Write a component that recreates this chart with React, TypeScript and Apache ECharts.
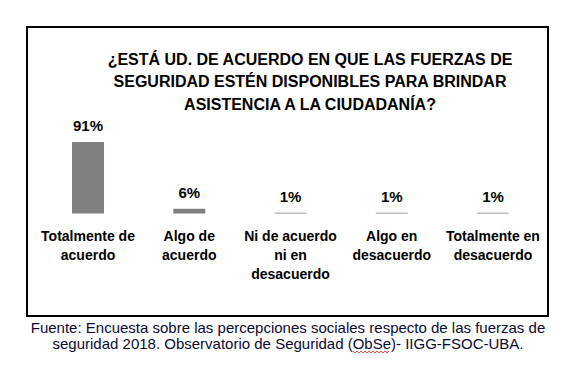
import React, { useEffect, useRef } from "react";
import * as echarts from "echarts";

const categories = [
  "Totalmente de\nacuerdo",
  "Algo de\nacuerdo",
  "Ni de acuerdo\nni en\ndesacuerdo",
  "Algo en\ndesacuerdo",
  "Totalmente en\ndesacuerdo",
];
const values = [91, 6, 1, 1, 1];
const titleLines = [
  "¿ESTÁ UD. DE ACUERDO EN QUE LAS FUERZAS DE",
  "SEGURIDAD ESTÉN DISPONIBLES PARA BRINDAR",
  "ASISTENCIA A LA CIUDADANÍA?",
];
const footerLines = [
  "Fuente: Encuesta sobre las percepciones sociales respecto de las fuerzas de",
  "seguridad 2018. Observatorio de Seguridad (ObSe)- IIGG-FSOC-UBA.",
];

const FONT = '"Liberation Sans", Arial, sans-serif';

function wavy(x0: number, x1: number, y: number): number[][] {
  const pts: number[][] = [];
  let up = true;
  for (let x = x0; x <= x1; x += 2) {
    pts.push([x, up ? y - 1 : y + 1]);
    up = !up;
  }
  return pts;
}

export default function App() {
  const ref = useRef<HTMLDivElement>(null);
  useEffect(() => {
    if (!ref.current) return;
    const chart = echarts.init(ref.current, null, { renderer: "svg" });
    chart.setOption({
      animation: false,
      backgroundColor: "#ffffff",
      grid: { left: 37.4, right: 33.4, top: 135, bottom: 152.5 },
      xAxis: {
        type: "category",
        data: categories,
        axisLine: { show: false },
        axisTick: { show: false },
        axisLabel: {
          interval: 0,
          margin: 13,
          color: "#000",
          fontFamily: FONT,
          fontWeight: "bold",
          fontSize: 14,
          lineHeight: 19,
        },
      },
      yAxis: {
        type: "value",
        min: 0,
        max: 100,
        show: false,
        splitLine: { show: false },
      },
      series: [
        {
          type: "bar",
          data: values,
          barWidth: 32,
          itemStyle: { color: "#808080" },
          label: {
            show: true,
            position: "top",
            distance: 9,
            formatter: "{c}%",
            color: "#000",
            fontFamily: FONT,
            fontWeight: "bold",
            fontSize: 15,
          },
        },
      ],
      graphic: [
        {
          type: "rect",
          shape: { x: 27, y: 27, width: 521, height: 289 },
          style: { fill: "none", stroke: "#000", lineWidth: 2 },
        },
        ...titleLines.map((t, i) => ({
          type: "text",
          x: 310,
          y: 59 + i * 22.5,
          style: {
            text: t,
            fill: "#000",
            font: `bold 16px ${FONT}`,
            textAlign: "center",
            textVerticalAlign: "middle",
          },
        })),
        ...footerLines.map((t, i) => ({
          type: "text",
          x: 288,
          y: 327 + i * 16.5,
          style: {
            text: t,
            fill: "#0a0a30",
            font: `15px ${FONT}`,
            textAlign: "center",
            textVerticalAlign: "middle",
          },
        })),
        {
          type: "polyline",
          shape: { points: wavy(353, 389, 352) },
          style: { stroke: "#e02020", lineWidth: 0.8, fill: "none" },
        },
      ],
    });
    return () => chart.dispose();
  }, []);
  return (
    <div
      ref={ref}
      style={{ position: "fixed", left: 0, top: 0, width: 577, height: 366 }}
    />
  );
}
